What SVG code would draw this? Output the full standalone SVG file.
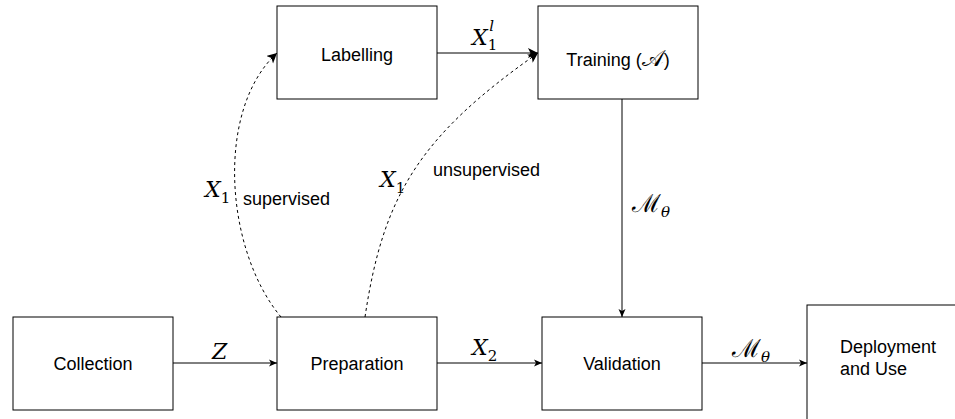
<svg xmlns="http://www.w3.org/2000/svg" width="955" height="419" viewBox="0 0 955 419">
  <style>
    .box { fill: #ffffff; stroke: #000000; stroke-width: 1; }
    .lbl { font-family: "Liberation Sans", Arial, sans-serif; font-size: 18px; fill: #000000; }
    .mid { text-anchor: middle; }
    .math { font-family: "DejaVu Serif", "Liberation Serif", serif; font-style: italic; font-size: 22px; fill: #000000; }
    .sub { font-size: 15px; }
    .num { font-style: normal; }
    .script { font-style: normal; font-size: 25px; }
    .edge { fill: none; stroke: #000000; stroke-width: 1; }
    .dash { stroke-dasharray: 3 3; }
  </style>
  <defs>
    <marker id="arrow" markerWidth="10" markerHeight="10" refX="8" refY="4" orient="auto" markerUnits="userSpaceOnUse">
      <path d="M0,0.5 L8,4 L0,7.5 L2,4 Z" fill="#000000"/>
    </marker>
    <marker id="arrowBig" markerWidth="12" markerHeight="12" refX="10" refY="5" orient="auto" markerUnits="userSpaceOnUse">
      <path d="M0,0 L10,5 L0,10 L2.5,5 Z" fill="#000000"/>
    </marker>
  </defs>

  <!-- connectors -->
  <g id="connectors">
    <path class="edge" d="M173,363 L277,363" marker-end="url(#arrow)"/>
    <path class="edge" d="M437,363 L542,363" marker-end="url(#arrow)"/>
    <path class="edge" d="M702,363 L807,363" marker-end="url(#arrow)"/>
    <path class="edge" d="M437,53 L538,53" marker-end="url(#arrowBig)"/>
    <path class="edge" d="M622,99 L622,317" marker-end="url(#arrow)"/>
    <path class="edge dash" d="M281,317 C225,250 215,110 277,53" marker-end="url(#arrowBig)"/>
    <path class="edge dash" d="M365,317 C383,197 418,137 538,53" marker-end="url(#arrowBig)"/>

    <!-- edge labels -->
    <text class="math" x="212" y="359">Z</text>
    <text class="math" x="472" y="355">X<tspan class="sub num" dy="6">2</tspan></text>
    <text class="math" x="732" y="357"><tspan class="script">ℳ</tspan><tspan class="sub" dy="5">θ</tspan></text>
    <text class="math" x="632" y="212"><tspan class="script">ℳ</tspan><tspan class="sub" dy="5">θ</tspan></text>
    <text class="math" x="472" y="45">X<tspan class="sub num" dy="5">1</tspan><tspan class="sub" dx="-8" dy="-19">l</tspan></text>
    <text class="math" x="205" y="197">X<tspan class="sub num" dy="6">1</tspan></text>
    <text class="math" x="380" y="187">X<tspan class="sub num" dy="6">1</tspan></text>
    <text class="lbl" x="243" y="205">supervised</text>
    <text class="lbl" x="433" y="176">unsupervised</text>
  </g>

  <g id="labelling">
    <rect class="box" x="277" y="6" width="160" height="93"/>
    <text class="lbl mid" x="357" y="61">Labelling</text>
  </g>
  <g id="training">
    <rect class="box" x="538" y="6" width="160" height="93"/>
    <text class="lbl mid" x="618" y="66">Training (<tspan font-family="DejaVu Serif, serif" font-size="23px">𝒜</tspan>)</text>
  </g>
  <g id="collection">
    <rect class="box" x="13" y="317" width="160" height="93"/>
    <text class="lbl mid" x="93" y="370">Collection</text>
  </g>
  <g id="preparation">
    <rect class="box" x="277" y="317" width="160" height="93"/>
    <text class="lbl mid" x="357" y="370">Preparation</text>
  </g>
  <g id="validation">
    <rect class="box" x="542" y="317" width="160" height="93"/>
    <text class="lbl mid" x="622" y="370">Validation</text>
  </g>
  <g id="deployment">
    <rect class="box" x="807" y="305" width="170" height="130"/>
    <text class="lbl" x="840" y="353">Deployment</text>
    <text class="lbl" x="840" y="375">and Use</text>
  </g>
</svg>
